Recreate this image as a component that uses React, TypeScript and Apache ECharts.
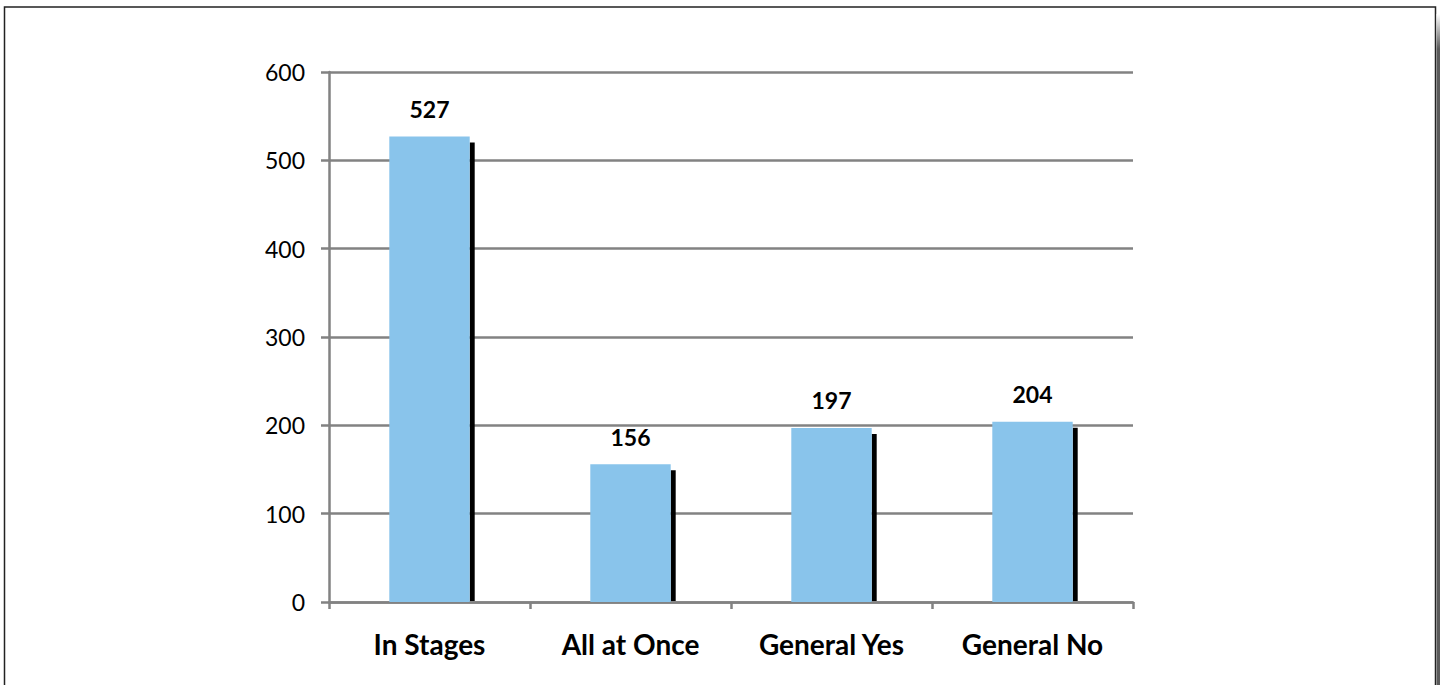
import React, { useEffect, useRef } from "react";
import * as echarts from "echarts";

const categories = ["In Stages", "All at Once", "General Yes", "General No"];
const values = [527, 156, 197, 204];
const yTicks = [0, 100, 200, 300, 400, 500, 600];

export default function App() {
  const ref = useRef<HTMLDivElement>(null);
  useEffect(() => {
    document.body.style.margin = "0";
    const chart = echarts.init(ref.current!, undefined, { renderer: "svg" });
    const font = "Lato, 'Open Sans', sans-serif";
    chart.setOption({
      animation: false,
      backgroundColor: "#fff",
      grid: { left: 329, right: 307, top: 72, bottom: 83, containLabel: false },
      xAxis: {
        type: "category",
        data: categories,
        axisLine: { lineStyle: { color: "#828282", width: 2.5 } },
        axisTick: { show: true, length: 7, lineStyle: { color: "#828282", width: 2.5 } },
        axisLabel: { fontFamily: font, fontWeight: "bold", fontSize: 28, color: "#000", margin: 28 },
      },
      yAxis: {
        type: "value",
        min: yTicks[0],
        max: yTicks[yTicks.length - 1],
        interval: 100,
        axisLine: { show: true, lineStyle: { color: "#828282", width: 2.5 } },
        axisTick: { show: true, length: 8, lineStyle: { color: "#828282", width: 2.5 } },
        splitLine: { show: true, lineStyle: { color: "#828282", width: 2.5 } },
        axisLabel: { fontFamily: font, fontSize: 23, color: "#000", margin: 24 },
      },
      series: [
        {
          type: "custom",
          z: 1,
          data: values.map((v, i) => [i, v]),
          renderItem: (params: any, api: any) => {
            const i = api.value(0);
            const v = api.value(1);
            const top = api.coord([i, v]);
            const base = api.coord([i, 0]);
            const band = api.size([1, 0])[0];
            const w = band * 0.4;
            return {
              type: "rect",
              shape: { x: top[0] + w / 2, y: top[1] + 6, width: 5, height: base[1] - top[1] - 7 },
              style: { fill: "#000" },
            };
          },
        },
        {
          type: "bar",
          z: 2,
          data: values,
          barWidth: "40%",
          itemStyle: { color: "#89C4EB" },
          label: {
            show: true,
            position: "top",
            distance: 16,
            fontFamily: font,
            fontWeight: "bold",
            fontSize: 23,
            color: "#000",
          },
        },
      ],
      graphic: [
        {
          type: "rect",
          silent: true,
          shape: { x: 4.5, y: 7, width: 1431, height: 700 },
          style: { fill: "none", stroke: "#222", lineWidth: 1.5 },
        },
        {
          type: "rect",
          silent: true,
          shape: { x: 1436.5, y: 14, width: 3.5, height: 700 },
          style: {
            fill: new echarts.graphic.LinearGradient(0, 0, 0, 1, [
              { offset: 0, color: "#ffffff" },
              { offset: 0.05, color: "#5a5a5a" },
              { offset: 1, color: "#5a5a5a" },
            ]),
          },
        },
      ],
    });
    return () => chart.dispose();
  }, []);
  return <div ref={ref} style={{ width: 1440, height: 685 }} />;
}
